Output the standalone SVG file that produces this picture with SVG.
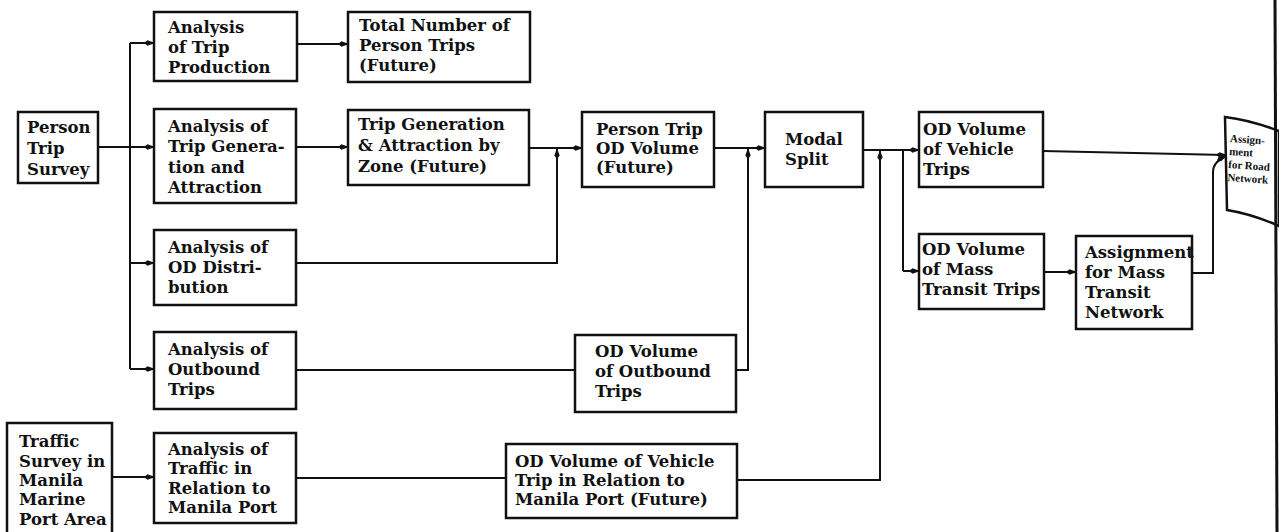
<svg xmlns="http://www.w3.org/2000/svg" width="1279" height="532" viewBox="0 0 1279 532">
<style>
.box{fill:#fff;stroke:#111;stroke-width:2.5}
.t{font-family:"DejaVu Serif","Liberation Serif",serif;font-weight:bold;font-size:16.5px;fill:#111}
.ts{font-family:"Liberation Serif","DejaVu Serif",serif;font-weight:bold;font-size:11px;fill:#111}
.c{fill:none;stroke:#111;stroke-width:2}
.a{marker-end:url(#ah)}
</style>
<defs>
<marker id="ah" markerWidth="11" markerHeight="7" refX="10" refY="3.5" orient="auto" markerUnits="userSpaceOnUse">
<path d="M0,3.5 L3.5,0.8 L11,3.5 L3.5,6.2 z" fill="#111"/>
</marker>
</defs>
<rect width="1279" height="532" fill="#fff"/>

<g id="connectors">
<path class="c a" d="M98,147 H154"/>
<path class="c" d="M130,43 V369"/>
<path class="c a" d="M130,43 H154"/>
<path class="c a" d="M130,263 H154"/>
<path class="c a" d="M130,369 H154"/>
<path class="c a" d="M297,44 H348"/>
<path class="c a" d="M296,147 H348"/>
<path class="c a" d="M529,148 H582"/>
<path class="c" d="M296,263 H557 V160"/>
<path class="c a" d="M557,175 V149"/>
<path class="c a" d="M714,148 H765"/>
<path class="c" d="M296,370 H575"/>
<path class="c" d="M736,370 H748 V160"/>
<path class="c a" d="M748,175 V149"/>
<path class="c a" d="M112,477 H154"/>
<path class="c" d="M296,478 H506"/>
<path class="c" d="M737,480 H880 V165"/>
<path class="c a" d="M880,175 V151"/>
<path class="c a" d="M863,150 H919"/>
<path class="c" d="M903,150 V271"/>
<path class="c a" d="M903,271 H919"/>
<path class="c a" d="M1044,272 H1076"/>
<path class="c a" d="M1192,273 H1213 V172 Q1213,162 1226,156"/>
<path class="c a" d="M1043,151 L1226,155"/>
</g>

<g id="person-trip-survey">
<rect class="box" x="18" y="112" width="80" height="71"/>
<text class="t" x="27" y="133">Person</text>
<text class="t" x="27" y="154">Trip</text>
<text class="t" x="27" y="175">Survey</text>
</g>

<g id="analysis-trip-production">
<rect class="box" x="154" y="12" width="143" height="69"/>
<text class="t" x="168" y="33">Analysis</text>
<text class="t" x="168" y="53">of Trip</text>
<text class="t" x="168" y="73">Production</text>
</g>

<g id="analysis-trip-generation">
<rect class="box" x="154" y="109" width="142" height="94"/>
<text class="t" x="168" y="132">Analysis of</text>
<text class="t" x="168" y="152">Trip Genera-</text>
<text class="t" x="168" y="173">tion and</text>
<text class="t" x="168" y="193">Attraction</text>
</g>

<g id="analysis-od-distribution">
<rect class="box" x="154" y="230" width="142" height="75"/>
<text class="t" x="168" y="253">Analysis of</text>
<text class="t" x="168" y="273">OD Distri-</text>
<text class="t" x="168" y="293">bution</text>
</g>

<g id="analysis-outbound-trips">
<rect class="box" x="154" y="332" width="142" height="77"/>
<text class="t" x="168" y="355">Analysis of</text>
<text class="t" x="168" y="375">Outbound</text>
<text class="t" x="168" y="395">Trips</text>
</g>

<g id="traffic-survey-manila">
<rect class="box" x="7" y="423" width="105" height="116"/>
<text class="t" x="19" y="447">Traffic</text>
<text class="t" x="19" y="467">Survey in</text>
<text class="t" x="19" y="486">Manila</text>
<text class="t" x="19" y="505">Marine</text>
<text class="t" x="19" y="525">Port Area</text>
</g>

<g id="analysis-traffic-manila-port">
<rect class="box" x="154" y="433" width="142" height="90"/>
<text class="t" x="168" y="455">Analysis of</text>
<text class="t" x="168" y="474">Traffic in</text>
<text class="t" x="168" y="494">Relation to</text>
<text class="t" x="168" y="513">Manila Port</text>
</g>

<g id="total-person-trips">
<rect class="box" x="348" y="12" width="182" height="70"/>
<text class="t" x="359" y="31">Total Number of</text>
<text class="t" x="359" y="51">Person Trips</text>
<text class="t" x="359" y="71">(Future)</text>
</g>

<g id="trip-generation-zone">
<rect class="box" x="348" y="110" width="181" height="75"/>
<text class="t" x="358" y="130">Trip Generation</text>
<text class="t" x="358" y="151">&amp; Attraction by</text>
<text class="t" x="358" y="172">Zone (Future)</text>
</g>

<g id="person-trip-od-volume">
<rect class="box" x="582" y="112" width="132" height="75"/>
<text class="t" x="596" y="135">Person Trip</text>
<text class="t" x="596" y="154">OD Volume</text>
<text class="t" x="596" y="173">(Future)</text>
</g>

<g id="od-volume-outbound">
<rect class="box" x="575" y="335" width="161" height="77"/>
<text class="t" x="595" y="357">OD Volume</text>
<text class="t" x="595" y="377">of Outbound</text>
<text class="t" x="595" y="397">Trips</text>
</g>

<g id="od-volume-vehicle-manila-port">
<rect class="box" x="506" y="444" width="231" height="74"/>
<text class="t" x="515" y="467">OD Volume of Vehicle</text>
<text class="t" x="515" y="486">Trip in Relation to</text>
<text class="t" x="515" y="505">Manila Port (Future)</text>
</g>

<g id="modal-split">
<rect class="box" x="765" y="112" width="98" height="75"/>
<text class="t" x="785" y="145">Modal</text>
<text class="t" x="785" y="165">Split</text>
</g>

<g id="od-volume-vehicle-trips">
<rect class="box" x="919" y="112" width="124" height="75"/>
<text class="t" x="923" y="135">OD Volume</text>
<text class="t" x="923" y="155">of Vehicle</text>
<text class="t" x="923" y="175">Trips</text>
</g>

<g id="od-volume-mass-transit">
<rect class="box" x="919" y="234" width="125" height="75"/>
<text class="t" x="922" y="255">OD Volume</text>
<text class="t" x="922" y="275">of Mass</text>
<text class="t" x="922" y="295">Transit Trips</text>
</g>

<g id="assignment-mass-transit">
<rect class="box" x="1076" y="236" width="116" height="93"/>
<text class="t" x="1085" y="258">Assignment</text>
<text class="t" x="1085" y="278">for Mass</text>
<text class="t" x="1085" y="298">Transit</text>
<text class="t" x="1085" y="318">Network</text>
</g>

<g id="assignment-road-network">
<path class="box" d="M1225,117 Q1250,120 1279,131 L1279,226 Q1252,214 1227,210 Z"/>
<g transform="rotate(4 1230 140)">
<text class="ts" x="1230" y="142">Assign-</text>
<text class="ts" x="1230" y="155">ment</text>
<text class="ts" x="1230" y="168">for Road</text>
<text class="ts" x="1230" y="181">Network</text>
</g>
</g>

<line x1="1275" y1="0" x2="1277" y2="532" stroke="#111" stroke-width="3"/>
</svg>
